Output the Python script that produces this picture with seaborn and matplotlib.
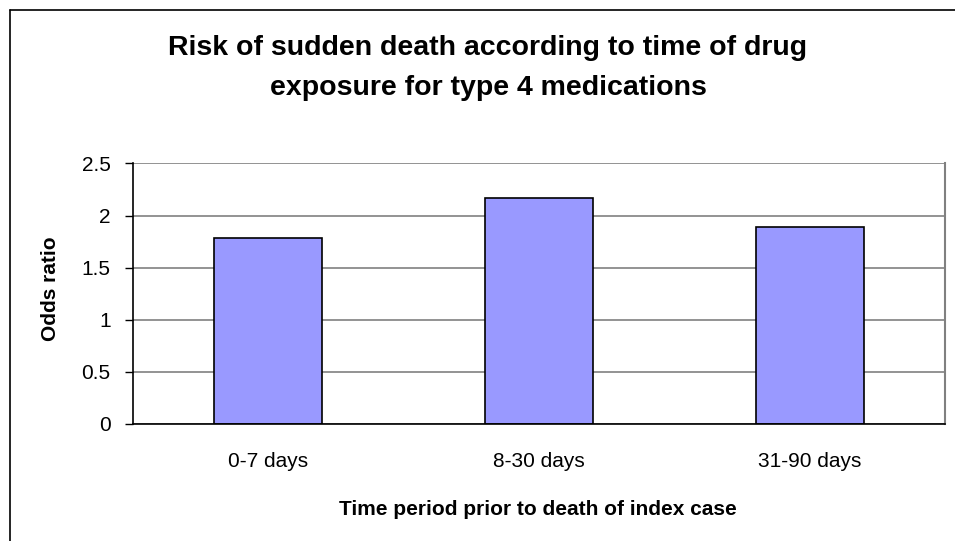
import pandas as pd
import seaborn as sns
import matplotlib.pyplot as plt
import numpy as np
from matplotlib.ticker import FormatStrFormatter, FixedLocator

# =========================
# Datos
# =========================
periods = ["0-7 days", "8-30 days", "31-90 days"]
odds_ratio = [1.78, 2.17, 1.89]

df = pd.DataFrame({"Periodo": periods, "OR": odds_ratio})

# =========================
# Plot
# =========================
sns.set_style("white")
plt.rcParams["font.family"] = ["Liberation Sans", "DejaVu Sans"]
plt.rcParams["text.color"] = "black"
plt.rcParams["xtick.color"] = "black"
plt.rcParams["ytick.color"] = "black"

W, H = 955, 541
fig = plt.figure(figsize=(W / 100, H / 100), dpi=100)
ax = fig.add_axes([0.139, 0.2163, 0.851, 0.4817])

sns.barplot(data=df, x="Periodo", y="OR", color="#9999FF", width=0.4,
            edgecolor="black", linewidth=1.2, saturation=1, ax=ax)

ax.set_xlim(-0.5, 2.5)
ax.set_ylim(0, 2.5)
ax.set_yticks(np.arange(0, 2.51, 0.5))
ax.yaxis.set_major_formatter(FormatStrFormatter("%g"))
ax.yaxis.grid(True, color="#808080", linewidth=1.2)
ax.set_axisbelow(True)

# ticks estilo Excel: marcas entre categorias
ax.xaxis.set_minor_locator(FixedLocator([-0.5, 0.5, 1.5, 2.5]))
ax.tick_params(axis="x", which="major", length=0, labelsize=15, pad=20)
ax.tick_params(axis="x", which="minor", length=6, width=1, color="black", direction="out")
ax.tick_params(axis="y", which="major", length=6, width=1, color="black",
               direction="out", labelsize=15, pad=10, left=True)

ax.spines["top"].set_visible(False)
ax.spines["right"].set_color("#808080")
ax.spines["right"].set_linewidth(1.5)
for s in ["left", "bottom"]:
    ax.spines[s].set_color("black")
    ax.spines[s].set_linewidth(1.2)

ax.set_xlabel("")
ax.set_ylabel("")

# titulo en dos lineas (posicion por linea base)
fig.text(488 / W, 1 - 55 / H, "Risk of sudden death according to time of drug",
         ha="center", va="baseline", fontsize=20.5, fontweight="bold")
fig.text(488 / W, 1 - 95 / H, "exposure for type 4 medications",
         ha="center", va="baseline", fontsize=20.5, fontweight="bold")
fig.text(538 / W, 1 - 515 / H, "Time period prior to death of index case",
         ha="center", va="baseline", fontsize=15, fontweight="bold")
fig.text(50 / W, 1 - 289 / H, "Odds ratio", ha="center", va="center", rotation=90,
         fontsize=15, fontweight="bold")

# borde del grafico (solo visible arriba e izquierda)
fig.add_artist(plt.Line2D([9.5 / W, 9.5 / W], [0, 1 - 9.5 / H], color="black", lw=1.2,
                          transform=fig.transFigure))
fig.add_artist(plt.Line2D([9.5 / W, 1], [1 - 9.5 / H, 1 - 9.5 / H], color="black", lw=1.2,
                          transform=fig.transFigure))

plt.savefig("out.png", dpi=100)
plt.close(fig)
